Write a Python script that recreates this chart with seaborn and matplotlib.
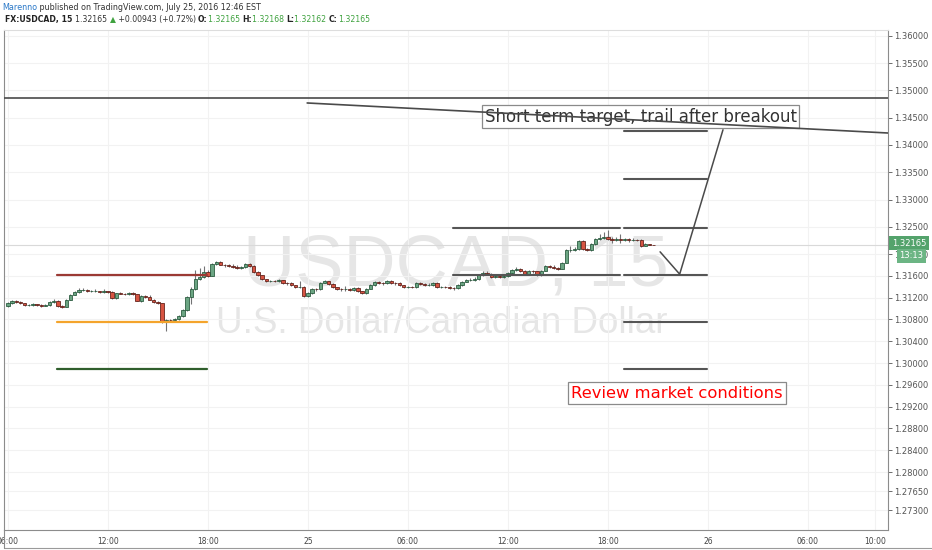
import numpy as np
import pandas as pd
import seaborn as sns
import matplotlib.pyplot as plt

# USDCAD 15 minute candles (bar index = 15 min step, bar 0 = 24 Jul 06:00)
first_open = 1.3105
closes = [1.3110, 1.3114, 1.3112, 1.3110, 1.3106, 1.3106, 1.3108, 1.3106, 1.3105, 1.3106,
          1.3112, 1.3114, 1.3105, 1.3103, 1.3116, 1.3125, 1.3130, 1.3134, 1.3134, 1.3132,
          1.3132, 1.3132, 1.3130, 1.3132, 1.3130, 1.3119, 1.3128, 1.3127, 1.3126, 1.3128,
          1.3126, 1.3114, 1.3123, 1.3122, 1.3116, 1.3112, 1.3110, 1.3075, 1.3079, 1.3078,
          1.3081, 1.3086, 1.3097, 1.3121, 1.3136, 1.3154, 1.3158, 1.3167, 1.3160, 1.3182,
          1.3185, 1.3180, 1.3179, 1.3178, 1.3177, 1.3174, 1.3176, 1.3182, 1.3178, 1.3167,
          1.3161, 1.3154, 1.3150, 1.3151, 1.3150, 1.3152, 1.3147, 1.3146, 1.3143, 1.3139,
          1.3140, 1.3123, 1.3128, 1.3136, 1.3135, 1.3147, 1.3150, 1.3145, 1.3139, 1.3136,
          1.3135, 1.3136, 1.3134, 1.3138, 1.3132, 1.3128, 1.3136, 1.3143, 1.3149, 1.3147,
          1.3146, 1.3150, 1.3147, 1.3146, 1.3143, 1.3139, 1.3140, 1.3139, 1.3147, 1.3145,
          1.3143, 1.3144, 1.3147, 1.3139, 1.3140, 1.3139, 1.3138, 1.3137, 1.3143, 1.3149,
          1.3152, 1.3153, 1.3154, 1.3161, 1.3165, 1.3164, 1.3158, 1.3160, 1.3158, 1.3159,
          1.3165, 1.3171, 1.3172, 1.3169, 1.3163, 1.3169, 1.3168, 1.3161, 1.3169, 1.3178,
          1.3177, 1.3174, 1.3173, 1.3184, 1.3207, 1.3208, 1.3209, 1.3224, 1.3209, 1.3207,
          1.3218, 1.3228, 1.3229, 1.3231, 1.3228, 1.3226, 1.3227, 1.3226, 1.3227, 1.3225,
          1.3226, 1.3225, 1.3215, 1.3218, 1.3217, 1.32165]
highs = [1.3112, 1.3116, 1.3116, 1.3114, 1.3111, 1.3108, 1.3110, 1.3109, 1.3108, 1.3108,
         1.3113, 1.3117, 1.3115, 1.3106, 1.3117, 1.3127, 1.3132, 1.3137, 1.3137, 1.3136,
         1.3134, 1.3135, 1.3133, 1.3136, 1.3133, 1.3132, 1.3129, 1.3130, 1.3129, 1.3130,
         1.3130, 1.3127, 1.3125, 1.3125, 1.3124, 1.3117, 1.3113, 1.3111, 1.3081, 1.3081,
         1.3083, 1.3088, 1.3099, 1.3123, 1.3140, 1.3170, 1.3175, 1.3178, 1.3170, 1.3184,
         1.3187, 1.3187, 1.3182, 1.3181, 1.3181, 1.3179, 1.3178, 1.3184, 1.3184, 1.3179,
         1.3168, 1.3162, 1.3155, 1.3153, 1.3153, 1.3154, 1.3153, 1.3149, 1.3148, 1.3144,
         1.3151, 1.3142, 1.3130, 1.3138, 1.3138, 1.3149, 1.3153, 1.3151, 1.3146, 1.3140,
         1.3138, 1.3142, 1.3138, 1.3140, 1.3139, 1.3133, 1.3138, 1.3145, 1.3151, 1.3151,
         1.3149, 1.3152, 1.3152, 1.3149, 1.3148, 1.3144, 1.3142, 1.3142, 1.3149, 1.3149,
         1.3147, 1.3146, 1.3149, 1.3148, 1.3142, 1.3142, 1.3141, 1.3140, 1.3145, 1.3151,
         1.3155, 1.3156, 1.3157, 1.3163, 1.3168, 1.3168, 1.3166, 1.3162, 1.3163, 1.3162,
         1.3167, 1.3173, 1.3176, 1.3174, 1.3170, 1.3171, 1.3171, 1.3169, 1.3171, 1.3180,
         1.3180, 1.3179, 1.3176, 1.3186, 1.3209, 1.3214, 1.3212, 1.3226, 1.3225, 1.3211,
         1.3220, 1.3230, 1.3236, 1.3240, 1.3244, 1.3231, 1.3232, 1.3236, 1.3230, 1.3229,
         1.3229, 1.3228, 1.3227, 1.3220, 1.3219, 1.32168]
lows = [1.3103, 1.3109, 1.3111, 1.3109, 1.3104, 1.3104, 1.3105, 1.3104, 1.3103, 1.3104,
        1.3105, 1.3111, 1.3103, 1.3101, 1.3102, 1.3115, 1.3124, 1.3129, 1.3132, 1.3130,
        1.3130, 1.3130, 1.3128, 1.3129, 1.3129, 1.3118, 1.3117, 1.3126, 1.3124, 1.3125,
        1.3124, 1.3113, 1.3112, 1.3120, 1.3115, 1.3110, 1.3108, 1.3073, 1.3058, 1.3076,
        1.3076, 1.3079, 1.3085, 1.3096, 1.3108, 1.3134, 1.3152, 1.3156, 1.3158, 1.3159,
        1.3180, 1.3179, 1.3177, 1.3176, 1.3175, 1.3172, 1.3173, 1.3175, 1.3177, 1.3165,
        1.3159, 1.3152, 1.3148, 1.3149, 1.3148, 1.3149, 1.3145, 1.3144, 1.3141, 1.3137,
        1.3138, 1.3121, 1.3121, 1.3127, 1.3133, 1.3134, 1.3146, 1.3143, 1.3137, 1.3134,
        1.3133, 1.3133, 1.3132, 1.3133, 1.3130, 1.3126, 1.3127, 1.3135, 1.3142, 1.3145,
        1.3144, 1.3145, 1.3145, 1.3144, 1.3141, 1.3137, 1.3137, 1.3137, 1.3138, 1.3143,
        1.3141, 1.3141, 1.3142, 1.3137, 1.3137, 1.3137, 1.3136, 1.3134, 1.3135, 1.3142,
        1.3148, 1.3150, 1.3151, 1.3153, 1.3160, 1.3162, 1.3156, 1.3156, 1.3156, 1.3156,
        1.3157, 1.3164, 1.3169, 1.3167, 1.3161, 1.3162, 1.3166, 1.3159, 1.3160, 1.3168,
        1.3175, 1.3172, 1.3171, 1.3172, 1.3183, 1.3204, 1.3206, 1.3208, 1.3207, 1.3205,
        1.3206, 1.3217, 1.3226, 1.3227, 1.3226, 1.3220, 1.3224, 1.3221, 1.3224, 1.3222,
        1.3223, 1.3223, 1.3213, 1.3214, 1.3216, 1.32162]

last_price = 1.32165

# axis labels
x_tick_bars = [0, 24, 48, 72, 96, 120, 144, 168, 192, 208]
x_tick_labels = ['06:00', '12:00', '18:00', '25', '06:00', '12:00', '18:00', '26', '06:00', '10:00']
y_ticks = [1.36, 1.355, 1.35, 1.345, 1.34, 1.335, 1.33, 1.325, 1.32, 1.316, 1.312, 1.308,
           1.304, 1.30, 1.296, 1.292, 1.288, 1.284, 1.28, 1.2765, 1.273]

# drawings
top_level = 1.3486
trend_bars = [71.8, 211.2]
trend_prices = [1.34771, 1.34220]
left_levels = [1.3161, 1.3075, 1.2989]
left_colors = ['#9b3a34', '#f4a42c', '#2f5e2c']
left_span = [11.8, 47.8]
mid_levels = [1.3248, 1.3161]
mid_span = [106.8, 146.9]
right_levels = [1.3426, 1.3338, 1.3248, 1.3161, 1.3075, 1.2989]
right_span = [147.8, 167.7]
callout_bars = [171.6, 161.2, 156.5]
callout_prices = [1.3428, 1.3163, 1.3204]

df = pd.DataFrame({'close': closes, 'high': highs, 'low': lows})
df['open'] = [first_open] + closes[:-1]
df['bar'] = np.arange(len(df))
df['up'] = df['close'] >= df['open']

sns.set_theme(style='white')
plt.rcParams['font.family'] = ['DejaVu Sans']

fig = plt.figure(figsize=(9.32, 5.5), dpi=100)
ax = fig.add_axes([4 / 932, 20 / 550, 884 / 932, 500 / 550])

ax.set_xlim(-0.96, 211.2)
ax.set_ylim(1.26936, 1.3611)

# watermark
ax.text(107.5, 1.3143, 'USDCAD, 15', fontsize=52, color='#e6e6e6', ha='center', va='baseline',
        family=['Liberation Sans'], zorder=0)
ax.text(104.2, 1.3055, 'U.S. Dollar/Canadian Dollar', fontsize=26.5, color='#e6e6e6', ha='center',
        va='baseline', family=['Liberation Sans'], zorder=0)

# grid
for b in x_tick_bars:
    ax.axvline(b, color='#f2f2f2', lw=0.8, zorder=0.5)
for p in y_ticks:
    ax.axhline(p, color='#f2f2f2', lw=0.8, zorder=0.5)

# current price line
ax.axhline(last_price, color='#d9d9d9', lw=0.8, zorder=1)

# candles
ax.vlines(df['bar'], df['low'], df['high'], color='#737375', lw=0.8, zorder=2)
body_bottom = df[['open', 'close']].min(axis=1)
body_height = (df['close'] - df['open']).abs().clip(lower=0.00004)
ax.bar(df['bar'], body_height, bottom=body_bottom, width=0.8,
       color=np.where(df['up'], '#6ba583', '#d75442'),
       edgecolor=np.where(df['up'], '#225437', '#5b1a13'), linewidth=0.55, zorder=3)

# drawn levels
ax.axhline(top_level, color='#4a4a4a', lw=1.2, zorder=4)
ax.plot(trend_bars, trend_prices, color='#4a4a4a', lw=1.2, zorder=6)
for p, c in zip(left_levels, left_colors):
    ax.plot(left_span, [p, p], color=c, lw=1.6, zorder=4)
for p in mid_levels:
    ax.plot(mid_span, [p, p], color='#555555', lw=1.5, zorder=4)
for p in right_levels:
    ax.plot(right_span, [p, p], color='#555555', lw=1.5, zorder=4)
ax.plot(callout_bars, callout_prices, color='#4a4a4a', lw=1.1, zorder=4)

ax.text(151.9, 1.34514, 'Short term target, trail after breakout', fontsize=12, color='#333333',
        ha='center', va='center', zorder=5,
        bbox=dict(boxstyle='square,pad=0.15', fc='white', ec='#8a8a8a', lw=0.9))
ax.text(160.5, 1.29449, 'Review market conditions', fontsize=11.8, color='#ff0000',
        ha='center', va='center', zorder=5,
        bbox=dict(boxstyle='square,pad=0.2', fc='white', ec='#8a8a8a', lw=0.9))

# axes styling
ax.yaxis.tick_right()
ax.set_yticks(y_ticks)
ax.set_yticklabels(['{:.5f}'.format(v) for v in y_ticks])
ax.set_xticks(x_tick_bars)
ax.set_xticklabels(x_tick_labels)
ax.tick_params(axis='y', labelsize=6, colors='#555555', length=3, width=0.6, pad=1.5, right=True)
ax.tick_params(axis='x', labelsize=5.5, colors='#444444', length=0, pad=5)
for s in ['left', 'bottom', 'right']:
    ax.spines[s].set_color('#8c8c8c')
    ax.spines[s].set_linewidth(0.8)
ax.spines['top'].set_color('#dddddd')
ax.spines['top'].set_linewidth(0.8)
ax.grid(False)

# last price tag
fig.text(909 / 932, 1 - 243 / 550, '1.32165', fontsize=6, color='white', ha='center', va='center',
         bbox=dict(boxstyle='square,pad=0.3', fc='#54a36c', ec='none'))
fig.text(911 / 932, 1 - 256 / 550, '13:13', fontsize=6, color='white', ha='center', va='center',
         bbox=dict(boxstyle='square,pad=0.3', fc='#6cb584', ec='none'))

# bottom strip lines
fig.add_artist(plt.Line2D([4 / 932, 1], [1 - 548 / 550] * 2, color='#9a9a9a', lw=0.8))
fig.add_artist(plt.Line2D([4 / 932, 4 / 932], [1 - 548 / 550, 20 / 550], color='#8c8c8c', lw=0.8))


# header, pieces chained left to right
def header_line(parts, x, y, size):
    t = fig.text(x, y, parts[0][0], fontsize=size, color=parts[0][1], fontweight=parts[0][2],
                 va='baseline')
    for txt, col, wt in parts[1:]:
        t = fig.add_artist(plt.Annotation(txt, xy=(1, 0), xycoords=t, xytext=(0, 0),
                                          textcoords='offset points', fontsize=size, color=col,
                                          fontweight=wt, va='bottom', ha='left'))


green = '#3fa23f'
header_line([('Marenno', '#2a78c8', 'normal'),
             (' published on TradingView.com, July 25, 2016 12:46 EST', '#333333', 'normal')],
            2 / 932, 1 - 10 / 550, 5.8)
header_line([('FX:USDCAD, 15 ', '#222222', 'bold'),
             ('1.32165 ', '#333333', 'normal'),
             ('\u25b2', green, 'normal'),
             (' +0.00943 (+0.72%) ', '#333333', 'normal'),
             ('O:', '#222222', 'bold'), ('1.32165 ', green, 'normal'),
             ('H:', '#222222', 'bold'), ('1.32168 ', green, 'normal'),
             ('L:', '#222222', 'bold'), ('1.32162 ', green, 'normal'),
             ('C:', '#222222', 'bold'), ('1.32165', green, 'normal')],
            5 / 932, 1 - 22 / 550, 5.6)

plt.savefig('out.png', dpi=100)
